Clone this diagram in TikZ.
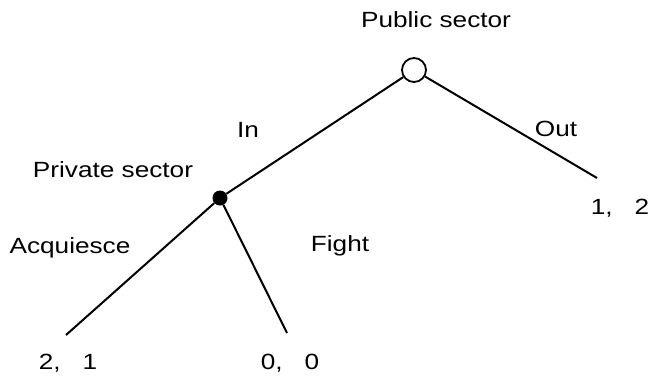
\documentclass[tikz,border=0pt]{standalone}
\usepackage{fontspec}
\setmainfont[FakeStretch=1.19]{Liberation Sans}
\usepackage{tikz}
\usetikzlibrary{positioning}

\begin{document}
\begin{tikzpicture}[x=1pt, y=-1pt, auto,
		every node/.style={font=\fontsize{22}{26}\selectfont, inner sep=0pt},
		branch/.style={line width=2pt}]
			\useasboundingbox (0, 0) rectangle (653, 378);

			% decision nodes
			\node [draw, circle, line width=1.8pt, minimum size=24pt] (public) at (414, 70) {};
			\node [fill, circle, minimum size=15pt] (private) at (220, 198) {};

			% end points of the branches
			\coordinate (outend) at (597, 178);
			\coordinate (acqend) at (66, 335);
			\coordinate (fightend) at (287, 333);

			% players
			\node (publab) at (436, 20) {Public sector};
			\node (privlab) at (113, 170) {Private sector};

			% moves
			\node (in) at (248, 130) {In};
			\node (out) at (556, 129) {Out};
			\node (acq) at (70, 248) {Acquiesce};
			\node (fight) at (340, 246) {Fight};

			% payoffs
			\node (pay1) at (620, 208) {1,\hskip 1em 2};
			\node (pay2) at (68, 363) {2,\hskip 1em 1};
			\node (pay3) at (290, 363) {0,\hskip 1em 0};

			\draw [branch] (public) to (private);
			\draw [branch] (public) to (outend);
			\draw [branch] (private) to (acqend);
			\draw [branch] (private) to (fightend);
	\end{tikzpicture}
\end{document}
